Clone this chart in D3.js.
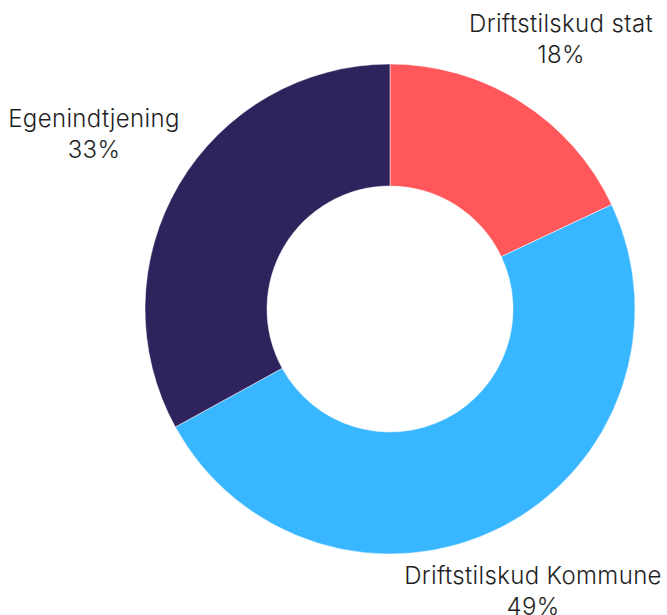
<!DOCTYPE html>
<html><head><meta charset="utf-8">
<script src="https://cdn.jsdelivr.net/npm/d3@7"></script>
<style>body{margin:0;background:#fff}svg{display:block}text{font-family:Inter,"Noto Sans",sans-serif;fill:#1f1f1f;font-weight:300;letter-spacing:0.35px}</style>
</head><body>
<svg id="c" width="667" height="615"></svg>
<script>
const categories = ["Driftstilskud stat", "Driftstilskud Kommune", "Egenindtjening"];
const values = [18, 49, 33];
const colors = ["#FF575A", "#38B6FF", "#2E235C"];
const labelPos = [[561, 32, 63], [533, 584, 615], [94, 127, 158]];

const svg = d3.select("#c");
const cx = 390, cy = 309, R = 245, r = 123;
const pie = d3.pie().sort(null).value(d => d)(values);
const arc = d3.arc().innerRadius(r).outerRadius(R);
const g = svg.append("g").attr("transform", `translate(${cx},${cy})`);
g.selectAll("path").data(pie).join("path")
  .attr("d", arc).attr("fill", (d, i) => colors[i])
  .attr("stroke", "#fff").attr("stroke-width", 0.5);

const lab = svg.selectAll("g.lab").data(categories).join("g").attr("class", "lab");
lab.append("text").attr("x", (d, i) => labelPos[i][0]).attr("y", (d, i) => labelPos[i][1])
  .attr("text-anchor", "middle").attr("font-size", 24).text(d => d);
lab.append("text").attr("x", (d, i) => labelPos[i][0]).attr("y", (d, i) => labelPos[i][2])
  .attr("text-anchor", "middle").attr("font-size", 24).text((d, i) => values[i] + "%");
</script>
</body></html>
